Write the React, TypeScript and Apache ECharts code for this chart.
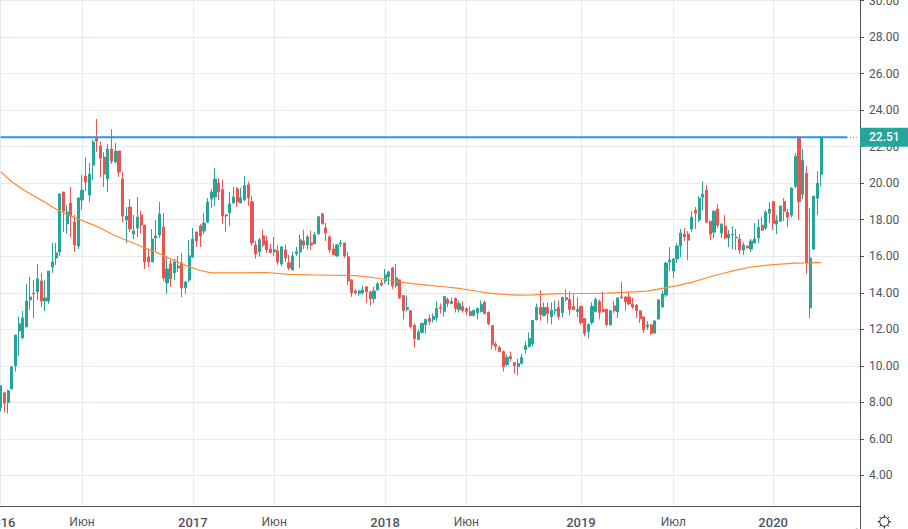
import React, { useEffect, useRef } from "react";
import * as echarts from "echarts";

// Weekly candles, each [open, close, low, high]
const candles2016: number[][] = [
  [7.72,8.91,7.5,8.91],[8.52,7.96,7.45,8.58],[7.99,8.63,7.39,8.69],[8.74,9.94,8.69,10.0],[10.0,11.69,9.69,11.69],
  [11.91,12.3,10.55,12.7],[11.53,12.62,11.46,13.0],[12.13,13.55,12.13,14.48],[13.61,13.77,13.06,14.87],[13.99,13.94,12.62,14.7],
  [14.05,14.76,13.61,15.58],[14.65,13.55,13.23,15.09],[13.55,13.72,13.0,14.7],[13.55,15.19,13.39,15.19],[15.41,15.69,15.09,16.73],
  [15.91,16.18,15.52,16.73],[16.23,19.41,16.02,19.46],[19.52,18.48,17.33,19.52],[17.77,18.42,17.22,18.8],[18.91,18.2,17.05,19.79],
  [17.87,16.62,16.23,18.26],[16.56,19.19,16.4,19.24],[19.08,19.62,18.53,20.45],[20.39,20.06,19.57,21.43],[19.35,20.5,18.97,21.1],
  [20.99,22.25,20.17,22.36],[22.47,22.3,21.7,23.51],[22.03,21.37,20.34,22.3],[21.43,20.5,19.79,21.7],[20.23,21.87,19.52,22.14],
  [21.87,21.21,21.05,22.96],[21.16,21.76,21.1,22.2],[21.76,20.61,20.34,21.76],[20.23,18.2,17.87,20.61],[17.98,18.2,16.73,18.69],
  [18.69,17.49,17.33,19.13],[17.22,17.38,16.94,18.26],[17.55,18.15,17.05,19.24],[18.26,17.71,17.27,18.48],[17.71,15.69,15.3,17.71],
  [15.96,15.69,15.41,16.4],[15.69,16.94,15.69,17.49],[17.0,17.11,16.29,17.98],[17.16,18.31,17.0,18.97],[17.6,14.81,14.65,18.37],
  [14.54,15.3,13.94,16.02],[15.58,14.76,14.32,15.8],[15.09,15.69,14.7,15.85],[15.36,15.47,15.14,16.02],[15.63,14.27,13.77,16.18],
  [14.27,14.59,13.94,14.65],[14.7,16.02,14.59,16.89],
];
const candles2017: number[][] = [
  [15.96,16.94,15.91,17.55],[17.33,16.84,16.51,17.33],[17.66,17.11,16.51,17.77],[17.38,17.82,17.22,18.37],[17.87,18.97,17.82,19.19],
  [19.13,19.52,18.64,19.68],[19.24,20.23,18.75,20.83],[20.01,19.52,19.08,20.28],[19.64,18.21,17.77,20.18],[18.27,18.21,17.34,18.32],
  [18.38,18.87,17.66,19.53],[18.92,19.25,18.87,19.8],[19.69,18.98,18.71,19.8],[18.92,19.2,18.92,19.75],[19.09,19.86,19.03,20.4],
  [19.91,19.2,18.76,20.07],[18.98,16.73,16.57,19.31],[16.62,16.13,15.86,16.84],[16.24,16.9,15.97,17.01],[17.12,16.62,16.51,17.45],
  [16.84,16.35,16.19,17.12],[16.4,16.19,16.19,16.68],[16.24,16.35,16.02,17.06],[16.3,15.69,15.53,16.62],[15.58,16.51,15.47,16.57],
  [16.35,15.91,15.69,16.62],[15.64,15.36,15.25,16.08],[15.25,16.02,15.25,16.24],[16.13,16.24,16.02,16.51],[16.24,16.9,15.36,17.17],
  [16.84,16.62,16.4,17.45],[16.62,17.06,16.35,17.17],[16.73,16.62,16.35,17.39],[16.68,17.17,16.68,17.34],[17.23,18.16,17.17,18.21],
  [18.32,17.77,17.77,18.38],[17.55,17.28,16.84,17.83],[17.06,16.35,16.19,17.17],[16.4,16.08,16.08,16.68],[16.02,16.62,15.97,16.68],
  [16.68,16.73,16.51,16.9],[16.73,16.02,15.91,16.73],[15.97,14.65,14.43,16.24],[14.71,14.0,13.78,14.71],[14.1,14.0,13.89,14.21],
  [13.94,14.1,13.83,14.16],[14.0,14.16,13.89,14.38],[14.32,14.05,13.45,14.38],[14.05,13.67,13.28,14.1],[13.67,14.1,13.45,14.32],
  [14.16,14.49,14.1,14.6],[14.54,14.43,14.32,14.71],
];
const candles2018: number[][] = [
  [14.65,14.98,14.49,15.31],[14.87,15.14,14.43,15.2],[15.36,14.38,14.21,15.42],[14.38,14.82,14.27,15.58],[14.71,13.72,13.67,14.71],
  [13.85,13.03,12.54,13.85],[13.09,13.2,12.98,13.85],[13.03,12.15,12.04,13.03],[12.21,11.5,11.0,12.32],[11.44,11.83,11.44,11.99],
  [11.83,12.32,11.77,12.37],[12.26,12.54,11.77,12.59],[12.59,12.43,12.21,12.81],[12.54,12.7,12.37,12.87],[12.65,13.14,12.43,13.52],
  [13.2,13.14,12.87,13.41],[12.98,13.8,12.7,13.8],[13.63,13.41,13.2,13.74],[13.41,13.52,13.41,13.74],[13.69,13.14,12.92,13.74],
  [13.09,13.41,12.92,13.58],[13.25,13.03,12.92,13.52],[13.14,12.98,12.76,13.2],[12.98,12.76,12.7,13.25],[12.76,13.03,12.7,13.09],
  [12.92,13.14,12.54,13.2],[12.98,13.36,12.92,13.58],[13.47,12.87,12.81,13.58],[12.92,12.32,12.21,12.98],[12.21,11.17,10.89,12.21],
  [11.17,11.06,10.84,11.33],[11.0,10.78,10.73,11.11],[10.78,9.96,9.69,10.84],[10.07,10.46,9.96,10.62],[10.51,10.4,10.24,10.78],
  [10.18,10.02,9.58,10.18],[9.96,10.13,9.47,10.4],[10.13,10.46,10.07,10.67],[10.89,11.11,10.67,11.33],[11.06,11.5,11.0,11.83],
  [11.22,12.48,11.06,12.48],[12.54,13.2,12.48,13.41],[13.2,12.81,12.48,14.13],[12.76,13.2,12.7,13.47],[13.2,12.87,12.32,13.47],
  [12.7,13.03,12.26,13.47],[13.03,13.09,12.81,13.58],[13.2,12.7,12.54,13.58],[12.92,13.74,12.65,13.8],[13.74,13.63,13.52,14.18],
  [13.63,13.09,12.76,14.07],[13.25,13.09,13.03,13.91],[12.98,13.09,12.65,13.74],
];
const candles2019: number[][] = [
  [13.25,12.37,12.26,13.3],[12.59,11.77,11.61,12.59],[11.88,12.26,11.5,12.32],[12.37,13.25,12.26,13.47],[12.98,13.63,12.92,13.74],
  [13.52,12.92,12.54,13.63],[13.09,12.98,12.92,14.07],[13.09,12.26,12.15,13.14],[12.24,13.01,12.24,13.06],[13.28,13.01,12.9,13.55],
  [12.95,13.72,12.62,13.72],[13.77,13.72,13.66,14.59],[13.77,13.5,13.06,13.83],[13.77,13.39,13.33,14.04],[13.39,13.22,13.11,13.72],
  [13.33,13.01,12.62,13.39],[13.01,12.57,12.35,13.01],[12.68,11.97,11.79,12.68],[12.13,12.24,11.97,12.46],[12.24,11.79,11.69,12.3],
  [11.79,12.46,11.79,12.51],[12.57,13.61,12.51,13.66],[13.22,13.93,13.17,14.1],[13.88,15.63,13.77,15.68],[15.68,15.79,15.19,16.5],
  [15.19,15.85,14.81,15.9],[15.85,16.56,15.63,16.72],[16.56,17.27,15.96,17.49],[17.21,17.05,16.83,17.54],[17.21,16.88,15.79,17.38],
  [17.49,18.14,17.32,18.47],[18.52,18.36,17.49,18.69],[17.98,19.18,17.87,19.29],[19.23,19.4,18.52,20.11],[19.62,17.87,17.81,19.89],
  [17.92,17.21,16.88,17.92],[17.32,18.47,17.0,18.52],[18.58,17.7,17.54,18.85],[17.27,17.76,17.0,17.81],[17.65,17.0,16.94,18.25],
  [17.0,17.21,16.5,17.43],[17.16,17.21,16.39,17.65],[17.0,17.05,16.34,17.49],[16.94,16.34,16.12,17.21],[16.34,16.61,16.07,16.77],
  [16.56,16.45,16.45,16.56],[16.39,16.83,16.23,16.94],[16.72,16.94,16.72,17.81],[17.0,17.59,16.72,18.03],[17.7,17.43,17.38,18.14],
  [17.54,18.41,17.43,18.52],[18.36,18.58,17.81,18.96],
];
const candles2020: number[][] = [
  [19.0,17.81,17.43,19.0],[17.76,17.98,17.21,18.25],[17.92,18.74,17.87,18.8],[19.0,18.47,17.92,19.18],[18.41,18.14,17.59,18.58],
  [18.25,19.73,18.14,19.78],[19.83,21.47,19.73,21.64],[22.51,19.0,17.98,22.57],[19.4,21.25,19.12,21.86],[20.54,15.63,15.03,20.93],
  [13.17,15.9,12.62,18.63],[16.39,19.29,16.34,19.29],[19.18,20.0,18.25,20.65],[20.49,22.51,19.83,22.57],
];
const candles = [...candles2016, ...candles2017, ...candles2018, ...candles2019, ...candles2020];

// Moving average, read at [bar index, value]
const movingAverage: number[][] = [
  [0,20.63],[3,20.08],[6,19.66],[9,19.3],[12,18.95],[15,18.57],[18,18.29],[21,18.04],[24,17.8],[27,17.55],[30,17.22],
  [33,16.96],[36,16.71],[39,16.45],[42,16.23],[45,15.94],[48,15.67],[51,15.43],[54,15.22],[57,15.09],[60,15.09],[66,15.09],
  [72,15.11],[78,15.01],[84,14.98],[90,14.96],[96,14.94],[100,14.85],[104,14.74],[108,14.58],[112,14.49],[116,14.4],[120,14.33],
  [124,14.24],[128,14.11],[132,13.98],[136,13.91],[140,13.87],[144,13.89],[148,13.93],[152,13.95],[156,13.96],[160,13.96],
  [164,13.98],[170,14.04],[175,14.09],[179,14.24],[183,14.39],[187,14.57],[191,14.82],[195,15.04],[199,15.24],[203,15.41],
  [207,15.5],[211,15.57],[215,15.62],[219,15.64],[222,15.66],
];

const tickIndexes = [0, 22, 52, 74, 104, 126, 157, 182, 209];
const tickLabels = ["2016", "Июн", "2017", "Июн", "2018", "Июн", "2019", "Июл", "2020"];
const lastPrice = 22.51;
const priceLineEnd = 229;
const dottedEnd = 232;
const barSlots = 233;
const categories = Array.from({ length: barSlots }, (_, i) => String(i));

const FONT = "Roboto, 'Noto Sans', sans-serif";
const AXIS = "#50535e";
const GRID = "#e4ebf1";
const UP = "#26a69a";
const DOWN = "#ef5350";

const showTick = (i: number) => tickIndexes.includes(i);

export default function App() {
  const ref = useRef<HTMLDivElement>(null);
  useEffect(() => {
    const chart = echarts.init(ref.current!, undefined, { renderer: "svg" });
    chart.setOption({
      animation: false,
      backgroundColor: "#ffffff",
      grid: { left: -1.17, top: 0, width: 861.17, height: 506, containLabel: false, outerBoundsMode: "none" },
      xAxis: {
        type: "category",
        data: categories,
        boundaryGap: true,
        axisLine: { lineStyle: { color: AXIS, width: 1 } },
        axisTick: { interval: showTick, alignWithLabel: true, length: 4, lineStyle: { color: AXIS } },
        splitLine: { show: true, interval: showTick, alignWithLabel: true, lineStyle: { color: GRID, width: 1 } },
        axisLabel: {
          interval: showTick,
          margin: 10,
          hideOverlap: false,
          formatter: (_: string, i: number) => {
            const t = tickLabels[tickIndexes.indexOf(i)] ?? "";
            return /\d/.test(t) ? `{y|${t}}` : `{m|${t}}`;
          },
          rich: {
            y: { fontFamily: FONT, fontSize: 13, fontWeight: 500, color: AXIS },
            m: { fontFamily: FONT, fontSize: 12, color: AXIS },
          },
        },
      },
      yAxis: {
        type: "value",
        position: "right",
        min: 2.325,
        max: 30.03,
        splitNumber: 14,
        minInterval: 2,
        maxInterval: 2,
        axisLine: { show: true, lineStyle: { color: AXIS, width: 1 } },
        axisTick: { show: true, length: 4, lineStyle: { color: AXIS } },
        splitLine: { show: true, lineStyle: { color: GRID, width: 1 } },
        axisLabel: {
          margin: 9,
          showMinLabel: false,
          showMaxLabel: false,
          color: AXIS,
          fontFamily: FONT,
          fontSize: 12,
          formatter: (v: number) => (Number.isInteger(v) ? v.toFixed(2) : ""),
        },
      },
      series: [
        {
          type: "candlestick",
          data: candles,
          barWidth: 2.6,
          z: 2,
          itemStyle: { color: UP, color0: DOWN, borderColor: UP, borderColor0: DOWN, borderWidth: 1 },
        },
        {
          type: "line",
          data: movingAverage,
          showSymbol: false,
          symbol: "none",
          z: 3,
          lineStyle: { color: "#ff8a2e", width: 1.2 },
        },
        {
          type: "line",
          data: [[0, lastPrice], [priceLineEnd, lastPrice]],
          showSymbol: false,
          symbol: "none",
          z: 4,
          lineStyle: { color: "#2196f3", width: 2 },
        },
        {
          type: "line",
          data: [[priceLineEnd, lastPrice], [dottedEnd, lastPrice]],
          showSymbol: false,
          symbol: "none",
          z: 4,
          lineStyle: { color: UP, width: 1, type: [1, 2] },
        },
      ],
    });

    const py = chart.convertToPixel({ yAxisIndex: 0 }, lastPrice) as number;
    const cx = 884.3;
    const cy = 521.7;
    const rays = [0, 1, 2, 3, 4, 5, 6, 7].map((k) => {
      const a = (k * Math.PI) / 4;
      return {
        type: "line",
        shape: {
          x1: cx + Math.cos(a) * 4.5,
          y1: cy + Math.sin(a) * 4.5,
          x2: cx + Math.cos(a) * 6.8,
          y2: cy + Math.sin(a) * 6.8,
        },
        style: { stroke: "#131722", lineWidth: 1 },
      };
    });
    chart.setOption({
      graphic: [
        { type: "line", shape: { x1: 860.5, y1: 506, x2: 860.5, y2: 529 }, style: { stroke: AXIS, lineWidth: 1 } },
        { type: "rect", z: 10, shape: { x: 860, y: py - 9.5, width: 48, height: 19 }, style: { fill: UP } },
        {
          type: "text",
          z: 11,
          x: 869,
          y: py,
          style: {
            text: lastPrice.toFixed(2),
            fill: "#ffffff",
            font: `500 12px ${FONT}`,
            verticalAlign: "middle",
          },
        },
        {
          type: "circle",
          shape: { cx, cy, r: 4.5 },
          style: { fill: "none", stroke: "#131722", lineWidth: 1 },
        },
        ...rays,
        {
          type: "text",
          x: 702,
          y: 525,
          style: { text: "Активация Windows", fill: "#c4c4c4", font: `20px 'Open Sans', sans-serif` },
        },
      ],
    });
    return () => chart.dispose();
  }, []);
  return <div ref={ref} style={{ position: "absolute", left: 0, top: 0, width: 908, height: 529 }} />;
}
